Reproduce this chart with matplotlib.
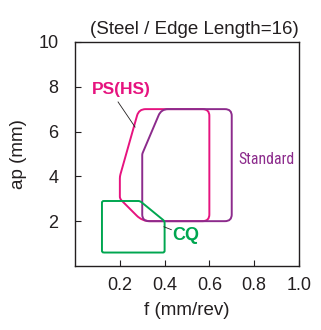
import numpy as np
import matplotlib
matplotlib.use("Agg")
import matplotlib.pyplot as plt
from matplotlib.path import Path
from matplotlib.patches import PathPatch

plt.rcParams['font.family'] = ['Liberation Sans', 'DejaVu Sans']

# Application ranges: feed f (mm/rev) vs depth of cut ap (mm)
ps_f = [0.30, 0.20, 0.20, 0.285, 0.60, 0.60]
ps_ap = [2.0, 3.0, 4.0, 7.0, 7.0, 2.0]
ps_round = [0.035, 0.01, 0.01, 0.03, 0.03, 0.03]

std_f = [0.30, 0.30, 0.385, 0.70, 0.70]
std_ap = [2.0, 5.0, 7.0, 7.0, 2.0]
std_round = [0.03, 0.005, 0.03, 0.03, 0.03]

cq_f = [0.12, 0.12, 0.29, 0.40, 0.40]
cq_ap = [0.6, 2.9, 2.9, 2.0, 0.6]
cq_round = [0.008, 0.008, 0.008, 0.008, 0.008]

x_ticks = [0.2, 0.4, 0.6, 0.8, 1.0]
y_ticks = [2, 4, 6, 8, 10]

PINK = '#e6137f'
PURPLE = '#8c2b8c'
GREEN = '#00a650'
TEXT = '#231f20'

XMAX, YMAX = 1.0, 10.0


def rounded_path(xs, ys, radii):
    """Closed polygon with rounded corners; rounding done in axis-normalised units."""
    pts = np.column_stack([np.asarray(xs) / XMAX, np.asarray(ys) / YMAX])
    n = len(pts)
    verts, codes = [], []
    for i in range(n):
        v = pts[i]
        p = pts[i - 1]
        q = pts[(i + 1) % n]
        r = radii[i]
        a = v + r * (p - v) / np.linalg.norm(p - v)
        b = v + r * (q - v) / np.linalg.norm(q - v)
        verts.append(a)
        codes.append(Path.MOVETO if i == 0 else Path.LINETO)
        verts += [v, b]
        codes += [Path.CURVE3, Path.CURVE3]
    verts.append(verts[0])
    codes.append(Path.LINETO)
    verts = np.array(verts) * np.array([XMAX, YMAX])
    return Path(verts, codes)


fig = plt.figure(figsize=(3.21, 3.30), dpi=100)
ax = fig.add_axes([0.234, 0.194, 0.697, 0.679])

for xs, ys, rr, col in [(ps_f, ps_ap, ps_round, PINK),
                        (std_f, std_ap, std_round, PURPLE),
                        (cq_f, cq_ap, cq_round, GREEN)]:
    ax.add_patch(PathPatch(rounded_path(xs, ys, rr), facecolor='none',
                           edgecolor=col, lw=1.4))

ax.set_xlim(0, XMAX)
ax.set_ylim(0, YMAX)
ax.set_xticks(x_ticks)
ax.set_xticklabels([f"{t:.1f}" for t in x_ticks])
ax.set_yticks(y_ticks)
ax.set_yticklabels([str(t) for t in y_ticks])
ax.tick_params(direction='in', length=4, width=0.8, labelsize=13,
               colors=TEXT)
ax.tick_params(axis='y', pad=12)
ax.tick_params(axis='x', pad=8)
for s in ax.spines.values():
    s.set_color(TEXT)
    s.set_linewidth(1.0)

ax.set_xlabel('f (mm/rev)', fontsize=13.5, color=TEXT, labelpad=6)
ax.set_ylabel('ap (mm)', fontsize=13.5, color=TEXT, labelpad=8)
ax.set_title('(Steel / Edge Length=16)', fontsize=13.5, color=TEXT,
             loc='right', pad=6)

# Series labels with leader lines
ax.text(0.205, 7.86, 'PS(HS)', color=PINK, fontsize=12.5, fontweight='bold',
        ha='center', va='center')
ax.plot([0.192, 0.268], [7.32, 6.2], color=TEXT, lw=0.6)
ax.text(0.728, 4.73, 'Standard', color=PURPLE, fontsize=11.3,
        family=['Roboto Condensed', 'Liberation Sans'],
        ha='left', va='center')
ax.text(0.433, 1.38, 'CQ', color=GREEN, fontsize=13, fontweight='bold',
        ha='left', va='center')
ax.plot([0.397, 0.43], [1.75, 1.62], color=TEXT, lw=0.6)

fig.savefig('out.png', dpi=100)
